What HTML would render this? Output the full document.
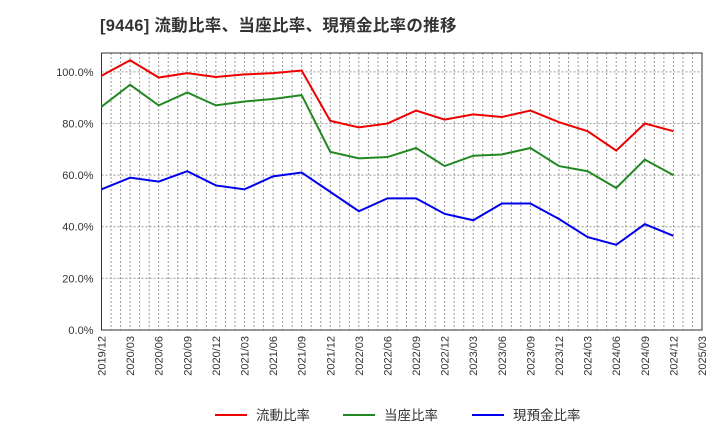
<!DOCTYPE html>
<html><head><meta charset="utf-8"><style>
body{margin:0;background:#fff;font-family:"Liberation Sans","Noto Sans CJK JP",sans-serif;}
</style></head><body>
<svg id="c" width="720" height="440" xmlns="http://www.w3.org/2000/svg">
<text x="100" y="31" font-size="16.5" font-weight="bold" fill="#333" letter-spacing="0.3" font-family="Liberation Sans, Noto Sans CJK JP, sans-serif">[9446]  流動比率、当座比率、現預金比率の推移</text>
<g id="grid"></g><g id="axes"></g><g id="series"></g><g id="legend"></g>
</svg>
<script>
const categories=["2019/12","2020/03","2020/06","2020/09","2020/12","2021/03","2021/06","2021/09","2021/12","2022/03","2022/06","2022/09","2022/12","2023/03","2023/06","2023/09","2023/12","2024/03","2024/06","2024/09","2024/12","2025/03"];
const currentRatio=[98.5,104.5,97.8,99.5,98,99,99.5,100.5,81,78.5,80,85,81.5,83.5,82.5,85,80.5,77,69.5,80,77];
const quickRatio=[86.5,95,87,92,87,88.5,89.5,91,69,66.5,67,70.5,63.5,67.5,68,70.5,63.5,61.5,55,66,60];
const cashRatio=[54.5,59,57.5,61.5,56,54.5,59.5,61,53.5,46,51,51,45,42.5,49,49,43,36,33,41,36.5];
const yTicks=[0,20,40,60,80,100];
const NS="http://www.w3.org/2000/svg";
const L=101.5,R=702,T=53,B=330,yMax=107.3;
const x=i=>L+i*(R-L)/(categories.length-1);
const y=v=>B-v/yMax*(B-T);
function mk(p,t,a){const e=document.createElementNS(NS,t);for(const k in a)e.setAttribute(k,a[k]);p.appendChild(e);return e;}
const g=document.getElementById('grid'),ax=document.getElementById('axes'),s=document.getElementById('series'),lg=document.getElementById('legend');
for(let m=1;m<(categories.length-1)*3;m++){const xx=L+m*(R-L)/((categories.length-1)*3);
const e=mk(g,'line',{x1:xx,x2:xx,y1:T,y2:B,stroke:'#999','stroke-dasharray':'2,2','stroke-width':1});

}
yTicks.forEach(v=>{if(v>0){const e=mk(g,'line',{x1:L,x2:R,y1:y(v),y2:y(v),stroke:'#999','stroke-dasharray':'2,2'});

}
const t=mk(ax,'text',{x:L-8,y:y(v)+4,'text-anchor':'end','font-size':11,fill:'#333'});t.textContent=v.toFixed(1)+'%';

});
const fr=mk(ax,'rect',{x:L,y:T,width:R-L,height:B-T,fill:'none',stroke:'#333'});


categories.forEach((c,i)=>{const t=mk(ax,'text',{transform:`translate(${x(i)+4},${B+6}) rotate(-90)`,'text-anchor':'end','font-size':11,fill:'#333'});t.textContent=c;

});
const series=[["流動比率",currentRatio,"#ee0000","current-ratio-line"],["当座比率",quickRatio,"#228822","quick-ratio-line"],["現預金比率",cashRatio,"#0000ee","cash-ratio-line"]];
const lx=[215,343,472];
series.forEach(([n,d,c,nm],k)=>{const p=mk(s,'polyline',{points:d.map((v,i)=>x(i)+','+y(v)).join(' '),fill:'none',stroke:c,'stroke-width':2});


const l=mk(lg,'line',{x1:lx[k],x2:lx[k]+32,y1:415,y2:415,stroke:c,'stroke-width':2});


const t=mk(lg,'text',{x:lx[k]+41,y:420,'font-size':13.5,fill:'#333'});t.textContent=n;

});
</script>
</body></html>
